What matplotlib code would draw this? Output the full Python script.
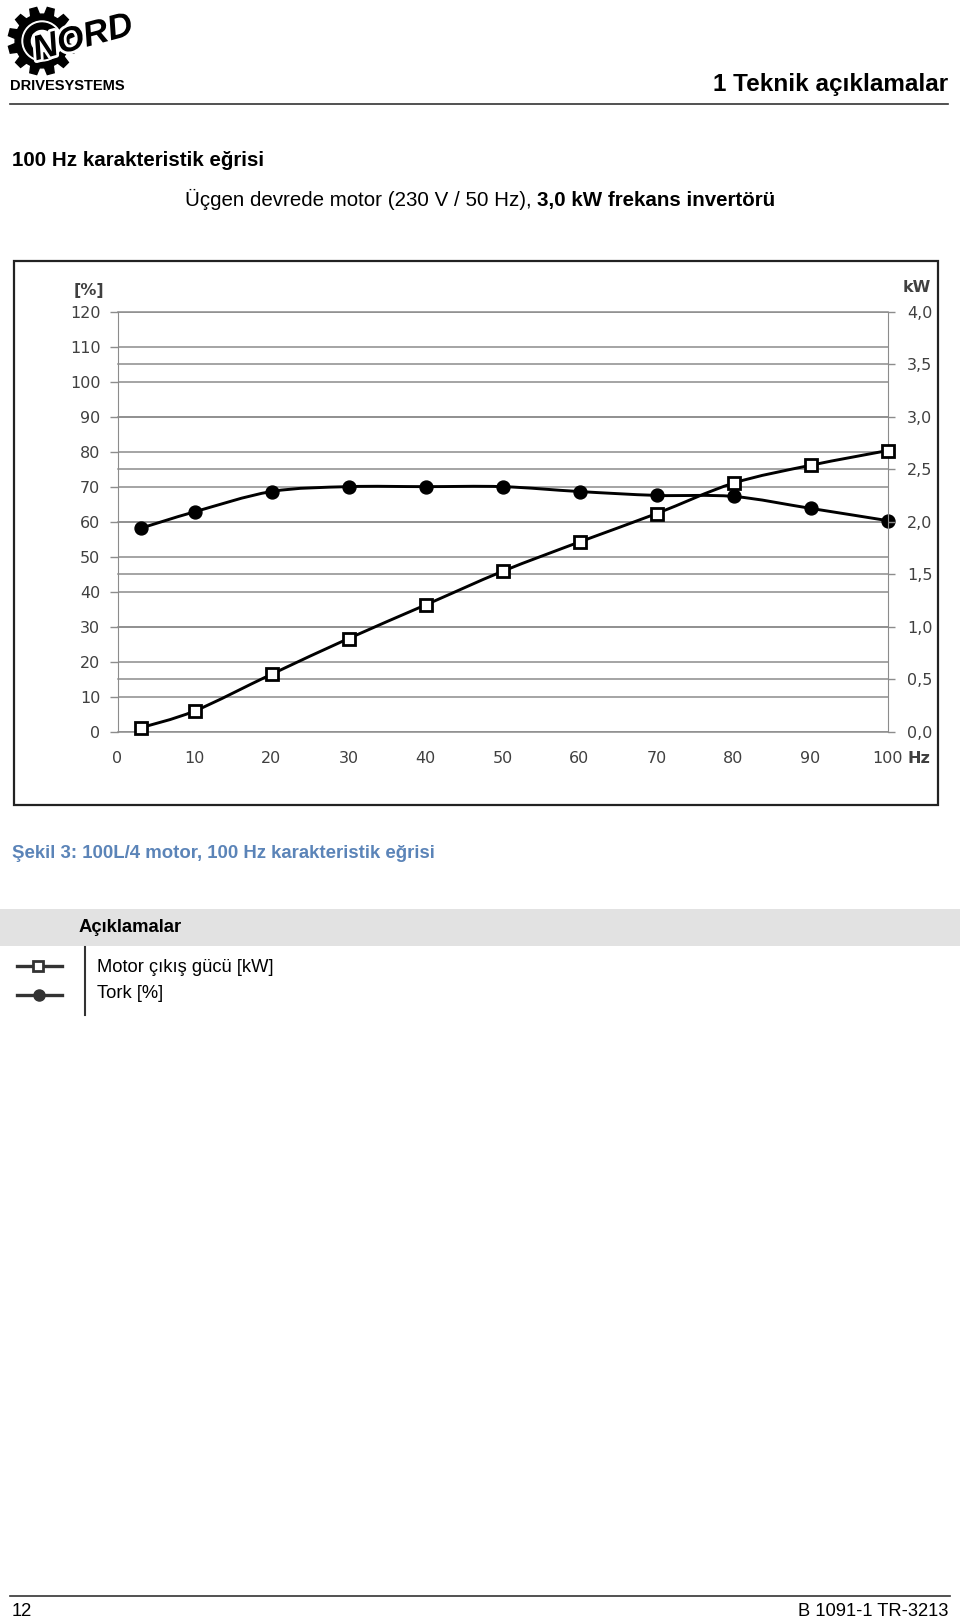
import numpy as np
import matplotlib
matplotlib.use("Agg")
import matplotlib.pyplot as plt
from matplotlib.patches import Rectangle, Polygon, Circle, Wedge, PathPatch
from matplotlib.path import Path
from matplotlib.ticker import FuncFormatter
import matplotlib.transforms as mtransforms
import matplotlib.patheffects as pe

plt.rcParams['font.family'] = ['Liberation Sans', 'DejaVu Sans']

# data
freq_hz = [3, 10, 20, 30, 40, 50, 60, 70, 80, 90, 100]
power_kw = [0.04, 0.20, 0.55, 0.89, 1.21, 1.53, 1.81, 2.08, 2.37, 2.54, 2.68]
torque_pct = [58.2, 62.9, 68.7, 70.1, 70.1, 70.1, 68.7, 67.6, 67.3, 63.9, 60.4]

pct_ticks = list(range(0, 121, 10))
kw_ticks = [0.0, 0.5, 1.0, 1.5, 2.0, 2.5, 3.0, 3.5, 4.0]
x_ticks = list(range(0, 101, 10))
x_labels = [str(v) for v in x_ticks]

W, H = 960, 1622
fig = plt.figure(figsize=(W / 100, H / 100), dpi=100)

page = fig.add_axes([0, 0, 1, 1])
page.set_xlim(0, W)
page.set_ylim(H, 0)
page.axis('off')

# ---- logo
cx, cy = 42, 41
n_teeth = 12
r_out, r_in = 34, 27
pts = []
step = 2 * np.pi / n_teeth
for i in range(n_teeth):
    a = i * step + step / 2
    for r, da in [(r_in, -0.32 * step), (r_out, -0.2 * step), (r_out, 0.2 * step), (r_in, 0.32 * step)]:
        pts.append((cx + r * np.cos(a + da), cy + r * np.sin(a + da)))
page.add_patch(Polygon(pts, closed=True, color='black', zorder=2))
page.add_patch(Circle((cx, cy), 20, color='white', zorder=3))
page.add_patch(Wedge((cx, cy), 18, 40, 320, width=6, color='black', zorder=4))
page.text(83, 38, "NORD", fontsize=25, fontweight='bold', style='italic', rotation=15,
          ha='center', va='center', zorder=5,
          path_effects=[pe.Stroke(linewidth=4, foreground='white'), pe.Normal()])
page.text(67, 86, "DRIVESYSTEMS", fontsize=10.5, fontweight='bold', ha='center', va='center')

# ---- header / titles
page.text(948, 84, "1 Teknik açıklamalar", fontsize=17.5, fontweight='bold', ha='right', va='center')
page.plot([10, 948], [103.5, 103.5], color='#333333', lw=1.2)
page.text(12, 160, "100 Hz karakteristik eğrisi", fontsize=14.8, fontweight='bold', ha='left', va='center')
page.text(532, 206, "Üçgen devrede motor (230 V / 50 Hz),", fontsize=14.8, ha='right', va='baseline')
page.text(537, 206, "3,0 kW frekans invertörü", fontsize=14.8, fontweight='bold', ha='left', va='baseline')

# chart frame
page.add_patch(Rectangle((14, 261), 924, 544, fill=False, lw=1.6, ec='#222222'))

# ---- caption and legend table
page.text(12, 854, "Şekil 3: 100L/4 motor, 100 Hz karakteristik eğrisi", fontsize=13.4,
          fontweight='bold', color='#5b84b8', ha='left', va='center')
page.add_patch(Rectangle((0, 909), W, 37, color='#e2e2e2', lw=0))
page.text(79, 927, "Açıklamalar", fontsize=13.3, fontweight='bold', ha='left', va='center')
page.plot([85, 85], [947, 1015], color='#333333', lw=1.5)
page.plot([17, 62], [966, 966], color='#333333', lw=2.4)
page.plot([37.5], [966], marker='s', ms=7.5, mfc='white', mec='#333333', mew=2)
page.plot([17, 62], [995, 995], color='#333333', lw=2.4)
page.plot([39], [995], marker='o', ms=8, color='#333333')
page.text(97, 968, "Motor çıkış gücü [kW]", fontsize=13.2, ha='left', va='center')
page.text(97, 994, "Tork [%]", fontsize=13.2, ha='left', va='center')

# ---- footer
page.plot([10, 950], [1596, 1596], color='#333333', lw=1.2)
page.text(12, 1611, "12", fontsize=13.2, ha='left', va='center')
page.text(948, 1611, "B 1091-1 TR-3213", fontsize=13.2, ha='right', va='center')

# ---- chart
left, right, top, bottom = 117.5, 887.5, 312, 732
ax = fig.add_axes([left / W, 1 - bottom / H, (right - left) / W, (bottom - top) / H])
ax.patch.set_alpha(0)
ax2 = ax.twinx()
ax2.patch.set_alpha(0)

ax.set_xlim(0, 100)
ax.set_ylim(0, 120)
ax2.set_ylim(0, 4)

grid_c = '#8c8c8c'
tick_c = '#404040'
for a in (ax, ax2):
    for s in a.spines.values():
        s.set_visible(False)
ax.spines['left'].set_visible(True)
ax.spines['left'].set_color(grid_c)
ax2.spines['right'].set_visible(True)
ax2.spines['right'].set_color(grid_c)

# grid lines for both scales
for v in pct_ticks:
    ax.axhline(v, color=grid_c, lw=1.1, zorder=1)
kw_tr = mtransforms.blended_transform_factory(ax.transAxes, ax2.transData)
for v in kw_ticks:
    ax.plot([0, 1], [v, v], transform=kw_tr, color=grid_c, lw=1.1, zorder=1, clip_on=False)


def smooth_path(xs, ys):
    xs = np.asarray(xs, float)
    ys = np.asarray(ys, float)
    p = np.column_stack([xs, ys])
    verts = [p[0]]
    codes = [Path.MOVETO]
    n = len(p)
    for i in range(n - 1):
        p0 = p[i - 1] if i > 0 else p[i]
        p1, p2 = p[i], p[i + 1]
        p3 = p[i + 2] if i + 2 < n else p[i + 1]
        verts += [p1 + (p2 - p0) / 6, p2 - (p3 - p1) / 6, p2]
        codes += [Path.CURVE4] * 3
    return Path(verts, codes)


ax.add_patch(PathPatch(smooth_path(freq_hz, torque_pct), fill=False, ec='black', lw=2.1,
                       zorder=3, clip_on=False))
ax.plot(freq_hz, torque_pct, ls='none', marker='o', ms=9.3, color='black', zorder=4, clip_on=False)
ax2.add_patch(PathPatch(smooth_path(freq_hz, power_kw), fill=False, ec='black', lw=2.1,
                        zorder=3, clip_on=False))
ax2.plot(freq_hz, power_kw, ls='none', marker='s', ms=9.3, mfc='white', mec='black', mew=2,
         zorder=4, clip_on=False)

ax.set_xticks(x_ticks)
ax.set_xticklabels(x_labels)
ax.set_yticks(pct_ticks)
ax2.set_yticks(kw_ticks)
ax2.yaxis.set_major_formatter(FuncFormatter(lambda v, p: f"{v:.1f}".replace('.', ',')))

ax.tick_params(axis='x', length=0, pad=14, labelsize=11.5, labelcolor=tick_c, labelfontfamily='DejaVu Sans')
ax.tick_params(axis='y', length=5.8, width=1, color=grid_c, pad=6.5, labelsize=11.5,
               labelcolor=tick_c, labelfontfamily='DejaVu Sans')
ax2.tick_params(axis='y', length=5, width=1, color=grid_c, pad=9, labelsize=11.5,
                labelcolor=tick_c, labelfontfamily='DejaVu Sans')

ax.annotate("Hz", xy=(100, 0), xycoords=('data', 'axes fraction'), xytext=(20, -27),
            textcoords='offset pixels', ha='left', va='center', fontsize=11.5,
            fontweight='bold', color=tick_c, family='DejaVu Sans')
page.text(89, 290, "[%]", fontsize=11.5, fontweight='bold', color=tick_c, ha='center',
          va='center', family='DejaVu Sans')
page.text(917, 288, "kW", fontsize=11.5, fontweight='bold', color=tick_c, ha='center',
          va='center', family='DejaVu Sans')

fig.savefig("out.png", dpi=100)
